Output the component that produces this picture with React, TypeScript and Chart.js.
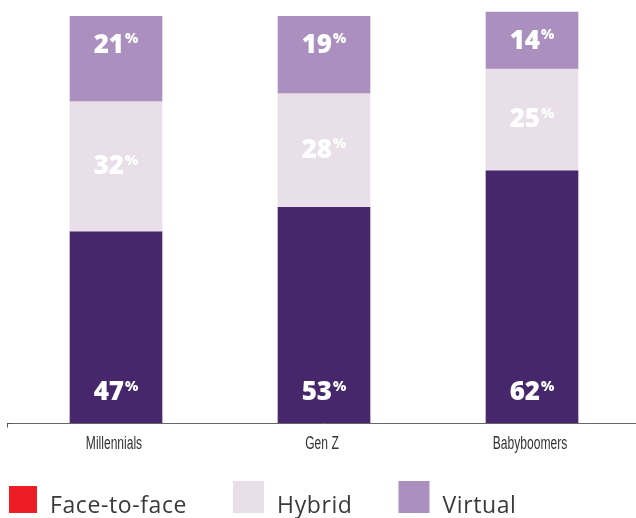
import { useEffect, useRef } from "react";
import { Chart, registerables } from "chart.js";

Chart.register(...registerables);

const categories = ["Millennials", "Gen Z", "Babyboomers"];
const seriesNames = ["Face-to-face", "Hybrid", "Virtual"];
const faceToFace = [47, 53, 62];
const hybrid = [32, 28, 25];
const virtual = [21, 19, 14];

const barColors = ["#47276b", "#e8dfe8", "#ab90bf"];
const legendColors = ["#ee1c25", "#e8dfe8", "#ab90bf"];

const labelPlugin = {
  id: "segLabels",
  afterDatasetsDraw(chart: any) {
    const ctx = chart.ctx;
    ctx.save();
    chart.data.datasets.forEach((ds: any, di: number) => {
      const meta = chart.getDatasetMeta(di);
      meta.data.forEach((bar: any, i: number) => {
        const v = ds.data[i];
        const num = String(v);
        let y: number;
        if (di === 0) y = bar.base - 30;
        else if (di === 1) y = (bar.y + bar.base) / 2;
        else y = bar.y + 29;
        const bigFont = "800 26px 'Open Sans', sans-serif";
        const smallFont = "800 14px 'Open Sans', sans-serif";
        ctx.font = bigFont;
        const wn = ctx.measureText(num).width;
        ctx.font = smallFont;
        const wp = ctx.measureText("%").width;
        const x0 = bar.x - (wn + wp + 1) / 2;
        ctx.fillStyle = "#ffffff";
        ctx.textBaseline = "middle";
        ctx.textAlign = "left";
        ctx.font = bigFont;
        ctx.fillText(num, x0, y);
        ctx.font = smallFont;
        ctx.fillText("%", x0 + wn + 1, y - 6);
      });
    });
    ctx.restore();
  },
};

const axisExtraPlugin = {
  id: "axisExtra",
  afterDraw(chart: any) {
    const ctx = chart.ctx;
    const xs = chart.scales.x;
    const y = Math.round(xs.top) + 0.5;
    ctx.save();
    ctx.strokeStyle = "#555555";
    ctx.lineWidth = 1;
    ctx.beginPath();
    ctx.moveTo(chart.chartArea.left - 5, y);
    ctx.lineTo(chart.chartArea.left, y);
    ctx.moveTo(chart.chartArea.left - 4.5, y);
    ctx.lineTo(chart.chartArea.left - 4.5, y + 4);
    ctx.stroke();
    // condensed category labels
    ctx.fillStyle = "#333333";
    ctx.font = "18px 'Liberation Sans', Arial, sans-serif";
    ctx.textAlign = "center";
    ctx.textBaseline = "alphabetic";
    xs.ticks.forEach((t: any, i: number) => {
      const x = xs.getPixelForTick(i);
      ctx.save();
      ctx.translate(x - 2, xs.top + 26);
      ctx.scale(0.67, 1);
      ctx.fillText(categories[i], 0, 0);
      ctx.restore();
    });
    ctx.restore();
  },
};

const legendPlugin = {
  id: "customLegend",
  afterDraw(chart: any) {
    const ctx = chart.ctx;
    ctx.save();
    const baseY = chart.height - 5;
    let x = 9;
    ctx.font = "23px 'Open Sans', sans-serif";
    (ctx as any).letterSpacing = "0.6px";
    ctx.textBaseline = "alphabetic";
    ctx.textAlign = "left";
    seriesNames.forEach((name, i) => {
      const bw = i === 0 ? 28 : 31;
      const bh = i === 0 ? 27 : 32;
      ctx.fillStyle = legendColors[i];
      ctx.fillRect(x, baseY - bh, bw, bh);
      ctx.fillStyle = "#3a3a3a";
      const tx = x + bw + 13;
      ctx.fillText(name, tx, baseY);
      const w = ctx.measureText(name).width;
      x = tx + w + 46;
    });
    ctx.restore();
  },
};

export default function App() {
  const ref = useRef<HTMLCanvasElement | null>(null);
  useEffect(() => {
    if (!ref.current) return;
    const chart = new Chart(ref.current, {
      type: "bar",
      data: {
        labels: categories,
        datasets: [
          { label: seriesNames[0], data: faceToFace, backgroundColor: barColors[0] },
          { label: seriesNames[1], data: hybrid, backgroundColor: barColors[1] },
          { label: seriesNames[2], data: virtual, backgroundColor: barColors[2] },
        ],
      },
      options: {
        animation: false,
        responsive: false,
        maintainAspectRatio: false,
        datasets: { bar: { barThickness: 92 } },
        layout: { padding: { left: 12, right: 0, top: 0, bottom: 63 } },
        plugins: { legend: { display: false }, tooltip: { enabled: false } },
        scales: {
          x: {
            stacked: true,
            grid: { display: false, drawTicks: true, tickLength: 8 },
            border: { display: true, color: "#666666", width: 1 },
            ticks: {
              color: "rgba(0,0,0,0)",
              padding: 3,
              font: { family: "'Liberation Sans Narrow', 'DejaVu Sans Condensed', sans-serif", size: 15 },
            },
          },
          y: {
            stacked: true,
            display: false,
            min: 0,
            max: 104,
          },
        },
      },
      plugins: [labelPlugin, axisExtraPlugin, legendPlugin],
    });
    return () => chart.destroy();
  }, []);
  return (
    <div style={{ position: "fixed", left: 0, top: 0, width: 636, height: 518, background: "#fff" }}>
      <canvas ref={ref} width={636} height={518} style={{ display: "block" }} />
    </div>
  );
}
